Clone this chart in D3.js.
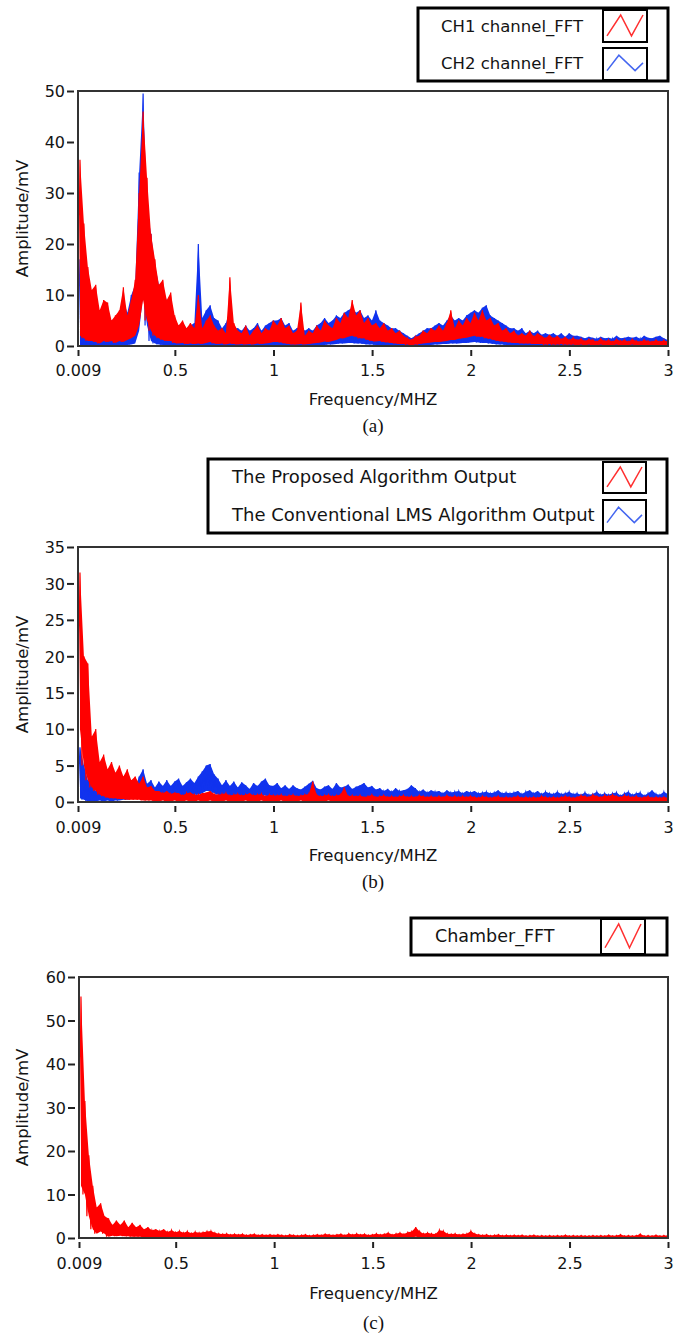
<!DOCTYPE html>
<html>
<head>
<meta charset="utf-8">
<script src="https://cdn.jsdelivr.net/npm/d3@7"></script>
<style>
  body { margin: 0; background: #fff; }
  svg { display: block; }
  .lbl { font-family: "DejaVu Sans", sans-serif; fill: #141414; }
  .cap { font-family: "Liberation Serif", serif; fill: #111; }
</style>
</head>
<body>
<svg id="chart" width="684" height="1336"></svg>
<script>
// FFT bins, 0.02 MHz wide starting at 0.009 MHz; each bin keeps the low / high
// amplitude (mV) that the trace sweeps inside that bin
var binStart = 0.009, binStep = 0.02;
var xTicks = [0.009, 0.5, 1, 1.5, 2, 2.5, 3];

// (a) CH1 / CH2
var ch1Hi = [36.5, 24, 15.5, 11, 12, 7, 9, 8.5, 5, 6,
  7, 11.5, 6, 9, 13, 30, 46, 33, 22, 17,
  12, 13, 9, 10.5, 6, 4, 5, 3.5, 4.5, 3.5,
  10, 3.5, 5, 6, 4, 3, 3.5, 2.5, 13.5, 4.5,
  3, 2.5, 4, 2, 3, 4, 2.5, 3.5, 3, 5,
  4, 5.5, 3.5, 4, 2.5, 3, 8.5, 2, 3, 2.5,
  4, 3, 5, 4, 3.5, 5.5, 4.5, 6.5, 5.5, 9,
  6, 7, 4.5, 5.5, 4, 4.5, 3.5, 4.5, 3, 3.5,
  2.5, 3, 2, 1.5, 1.2, 1.8, 2, 3, 2.5, 3.5,
  3, 4, 3, 4.5, 7, 3.5, 5, 4, 5.5, 4.5,
  6.5, 5, 7, 5, 5.5, 4, 4.5, 3, 3.5, 2.5,
  3, 2, 2.5, 2, 3, 1.8, 2.5, 2, 1.5, 2.2,
  1.5, 2, 1.3, 1.8, 1.2, 1.6, 1.2, 1.4, 1.0, 1.3,
  1.2, 0.9, 1.4, 1.0, 1.2, 0.9, 1.3, 1.0, 1.2, 0.9,
  1.3, 1.0, 0.9, 1.2, 1.0, 0.9, 1.2, 0.9, 1.1, 0.9];
var ch1Lo = [2, 1.5, 1, 1, 0.8, 0.5, 1, 0.8, 1, 0.6,
  1, 0.8, 1.2, 1.5, 2, 4, 9, 5, 3, 2,
  1.5, 1.2, 1, 1, 0.6, 0.5, 0.6, 0.4, 0.5, 0.4,
  0.5, 0.4, 0.6, 0.8, 0.5, 0.4, 0.5, 0.3, 0.5, 0.4,
  0.3, 0.4, 0.3, 0.4, 0.3, 0.5, 0.4, 0.5, 0.6, 0.8,
  0.8, 0.7, 0.5, 0.4, 0.3, 0.3, 0.4, 0.3, 0.4, 0.5,
  0.6, 0.7, 0.9, 0.8, 1, 1.2, 1.5, 1.5, 1.8, 2,
  1.8, 1.5, 1.5, 1.2, 1, 0.9, 1, 0.8, 0.7, 0.6,
  0.5, 0.4, 0.4, 0.3, 0.2, 0.3, 0.4, 0.5, 0.6, 0.7,
  0.8, 0.8, 0.9, 1, 1.2, 1.2, 1.4, 1.5, 1.6, 1.8,
  2, 1.8, 1.8, 1.5, 1.4, 1.2, 1, 0.9, 0.8, 0.7,
  0.6, 0.6, 0.5, 0.5, 0.5, 0.4, 0.4, 0.4, 0.3, 0.4,
  0.3, 0.3, 0.4, 0.3, 0.3, 0.3, 0.2, 0.3, 0.2, 0.3,
  0.2, 0.2, 0.3, 0.2, 0.2, 0.2, 0.3, 0.2, 0.2, 0.2,
  0.3, 0.2, 0.2, 0.2, 0.2, 0.2, 0.2, 0.2, 0.2, 0.2];
var ch2Hi = [17, 18, 14, 9, 7.5, 5, 6.5, 4.5, 5, 4,
  6, 9, 6.5, 10, 12, 34, 49.5, 27, 22, 16,
  12, 11, 9, 8, 5, 4, 4.5, 3.5, 4, 4.5,
  20, 5.5, 7, 8, 5.5, 5, 3.5, 4.5, 7, 3.5,
  3.5, 3, 4, 3, 3.5, 4.5, 3, 4, 4.5, 5,
  5, 5.5, 4, 4.5, 3, 3.5, 4, 3, 3.5, 3,
  4, 4.5, 5.5, 4.5, 5, 6, 5.5, 6.5, 7, 7.5,
  6.5, 7, 5.5, 6, 5, 7, 5, 4.5, 4, 3.5,
  3.5, 3, 2.5, 2, 1.5, 2, 2.5, 3, 3.5, 3.5,
  4, 4.5, 4, 5, 6, 5, 5.5, 5, 6, 6.5,
  7, 6.5, 7.5, 8, 6, 5.5, 5, 4.5, 4, 3.5,
  3.5, 3, 3.5, 2.5, 3, 2.5, 3, 2.2, 2.5, 2.2,
  2.5, 2, 2.5, 1.8, 2.5, 2, 2, 1.8, 1.5, 1.8,
  1.6, 1.4, 1.8, 1.5, 1.6, 1.4, 2, 1.5, 1.6, 1.8,
  1.6, 1.8, 1.4, 2, 1.6, 1.5, 1.8, 2, 1.5, 1.2];
var ch2Lo = [0.2, 0, 0, 0.2, 0, 0, 0.1, 0, 0, 0,
  0.1, 0, 0.2, 0.3, 0.5, 3, 10, 4, 1, 0.5,
  0.3, 0.2, 0.1, 0, 0, 0, 0.1, 0, 0, 0,
  0.1, 0, 0.1, 0.2, 0, 0, 0, 0.1, 0, 0,
  0, 0.1, 0, 0, 0.1, 0, 0, 0.1, 0.1, 0.2,
  0.2, 0.1, 0, 0, 0, 0.1, 0, 0, 0, 0.1,
  0.1, 0.2, 0.2, 0.3, 0.3, 0.4, 0.5, 0.5, 0.6, 0.6,
  0.5, 0.5, 0.4, 0.3, 0.3, 0.2, 0.2, 0.1, 0.1, 0,
  0, 0, 0, 0, 0, 0, 0.1, 0.1, 0.2, 0.2,
  0.3, 0.3, 0.4, 0.4, 0.5, 0.5, 0.5, 0.6, 0.6, 0.7,
  0.8, 0.7, 0.6, 0.6, 0.5, 0.4, 0.3, 0.3, 0.2, 0.2,
  0.1, 0.1, 0.1, 0.1, 0, 0.1, 0, 0.1, 0, 0,
  0, 0, 0.1, 0, 0, 0, 0, 0, 0, 0,
  0, 0, 0, 0, 0, 0, 0, 0, 0, 0,
  0, 0, 0, 0, 0, 0, 0, 0, 0, 0];

// (b) proposed algorithm / conventional LMS
var propHi = [31.5, 20, 19, 9, 10, 5.5, 6.5, 4.5, 5.5, 4,
  5, 3.5, 4.5, 3, 3.5, 2.5, 3.5, 2, 2.2, 1.5,
  1.5, 1.2, 1.5, 1.1, 1.3, 1.2, 0.9, 1.2, 1.3, 1.0,
  1.0, 1.2, 1.3, 1.5, 1.1, 1.0, 1.1, 1.2, 0.9, 1.0,
  1.1, 0.9, 1.0, 1.2, 0.9, 1.0, 1.1, 0.8, 1.0, 0.9,
  0.9, 1.0, 0.8, 0.9, 1.0, 0.8, 0.9, 1.0, 1.1, 2.8,
  1.0, 0.8, 0.9, 1.0, 0.8, 0.9, 1.0, 2.0, 0.8, 0.9,
  0.8, 0.9, 0.7, 0.8, 1.0, 0.7, 0.8, 0.9, 0.7, 0.8,
  0.7, 0.8, 0.9, 0.7, 0.8, 0.7, 0.9, 0.8, 0.7, 0.8,
  0.7, 0.8, 0.7, 0.9, 0.7, 0.8, 0.7, 0.8, 0.7, 0.8,
  0.7, 0.6, 0.8, 0.7, 0.6, 0.7, 0.8, 0.6, 0.7, 0.6,
  0.7, 0.8, 0.6, 0.7, 0.6, 0.7, 0.6, 0.8, 0.7, 0.6,
  0.7, 0.6, 0.7, 0.8, 0.7, 0.6, 0.7, 0.9, 0.8, 0.7,
  1.0, 0.8, 0.7, 0.9, 0.8, 1.0, 0.8, 0.7, 0.9, 0.8,
  0.7, 0.8, 0.6, 0.7, 0.8, 0.6, 0.7, 0.6, 0.7, 0.6];
var propLo = [10, 5, 3, 2, 1.5, 1, 0.8, 0.6, 0.5, 0.5,
  0.4, 0.4, 0.3, 0.3, 0.3, 0.3, 0.2, 0.2, 0.2, 0.1,
  0.1, 0.2, 0.1, 0.1, 0.2, 0.1, 0.1, 0.2, 0.1, 0.1,
  0.2, 0.1, 0.1, 0.2, 0.1, 0.1, 0.1, 0.2, 0.1, 0.1,
  0.1, 0.1, 0.2, 0.1, 0.1, 0.1, 0.2, 0.1, 0.1, 0.1,
  0.1, 0.2, 0.1, 0.1, 0.1, 0.1, 0.2, 0.1, 0.1, 0.1,
  0.1, 0.1, 0.1, 0.2, 0.1, 0.1, 0.1, 0.1, 0.1, 0.1,
  0.1, 0.1, 0.1, 0.1, 0.1, 0.1, 0.1, 0.1, 0.1, 0.1,
  0.1, 0.1, 0.1, 0.1, 0.1, 0.1, 0.1, 0.1, 0.1, 0.1,
  0.1, 0.1, 0.1, 0.1, 0.1, 0.1, 0.1, 0.1, 0.1, 0.1,
  0.1, 0.1, 0.1, 0.1, 0.1, 0.1, 0.1, 0.1, 0.1, 0.1,
  0.1, 0.1, 0.1, 0.1, 0.1, 0.1, 0.1, 0.1, 0.1, 0.1,
  0.1, 0.1, 0.1, 0.1, 0.1, 0.1, 0.1, 0.1, 0.1, 0.1,
  0.1, 0.1, 0.1, 0.1, 0.1, 0.1, 0.1, 0.1, 0.1, 0.1,
  0.1, 0.1, 0.1, 0.1, 0.1, 0.1, 0.1, 0.1, 0.1, 0.1];
var lmsHi = [7.5, 5, 3, 2.5, 1.5, 1.8, 1.2, 1.5, 1.0, 1.5,
  1.3, 1.8, 1.6, 2.5, 2, 3.5, 4.5, 2.5, 3, 2,
  2.8, 2.2, 3, 2.2, 2.8, 3.2, 2.2, 2.7, 3.2, 2.6,
  3.5, 4.2, 5, 5.2, 3.8, 3.2, 2.3, 3, 2.2, 2.8,
  2, 2.7, 2.3, 1.8, 2.6, 2.2, 2.8, 3.2, 2.3, 2.2,
  2.6, 1.9, 2.3, 1.8, 2.3, 1.9, 1.7, 2.1, 2.5, 2.9,
  1.9, 1.7, 2.1, 2.3, 1.8, 2.6, 2.0, 2.1, 2.4, 1.8,
  2.1, 2.3, 2.6, 2.0, 2.2, 1.7, 1.9, 1.5, 1.8, 1.4,
  1.9, 1.5, 1.6, 1.8, 2.3, 1.9, 1.4, 1.7, 1.3, 1.6,
  1.4, 1.5, 1.2, 1.6, 1.3, 1.4, 1.5, 1.2, 1.5, 1.3,
  1.5, 1.2, 1.3, 1.4, 1.2, 1.3, 1.6, 1.2, 1.3, 1.2,
  1.3, 1.5, 1.1, 1.4, 1.6, 1.2, 1.5, 1.1, 1.4, 1.2,
  1.1, 1.4, 1.1, 1.2, 1.4, 1.1, 1.2, 1.0, 1.3, 1.0,
  1.1, 1.4, 1.0, 1.2, 1.0, 1.2, 1.3, 0.9, 1.2, 1.4,
  1.0, 1.2, 1.3, 0.9, 1.2, 1.6, 1.1, 1.0, 1.4, 1.1];
var lmsLo = [0.5, 0.3, 0.1, 0.1, 0.1, 0.2, 0.1, 0.2, 0.1, 0.2,
  0.2, 0.3, 0.3, 0.4, 0.4, 0.8, 1.2, 0.8, 0.6, 0.5,
  0.6, 0.7, 0.8, 0.7, 0.8, 0.9, 0.8, 0.7, 0.9, 1.0,
  1.0, 1.2, 1.5, 1.5, 1.2, 1.0, 0.8, 0.9, 0.8, 0.7,
  0.7, 0.8, 0.7, 0.6, 0.8, 0.7, 0.8, 0.9, 0.7, 0.6,
  0.7, 0.6, 0.7, 0.6, 0.7, 0.6, 0.5, 0.6, 0.7, 0.8,
  0.6, 0.5, 0.6, 0.7, 0.6, 0.7, 0.6, 0.6, 0.7, 0.6,
  0.6, 0.7, 0.7, 0.6, 0.6, 0.5, 0.5, 0.5, 0.6, 0.5,
  0.5, 0.5, 0.4, 0.5, 0.6, 0.6, 0.5, 0.5, 0.4, 0.5,
  0.5, 0.4, 0.4, 0.5, 0.4, 0.4, 0.5, 0.4, 0.4, 0.4,
  0.4, 0.4, 0.4, 0.4, 0.4, 0.4, 0.4, 0.4, 0.4, 0.4,
  0.4, 0.4, 0.4, 0.4, 0.4, 0.4, 0.4, 0.4, 0.4, 0.4,
  0.4, 0.4, 0.3, 0.4, 0.3, 0.4, 0.3, 0.3, 0.4, 0.3,
  0.3, 0.4, 0.3, 0.3, 0.3, 0.3, 0.4, 0.3, 0.3, 0.4,
  0.3, 0.3, 0.4, 0.3, 0.3, 0.4, 0.3, 0.3, 0.4, 0.3];

// (c) chamber
var chamberHi = [55.5, 31.5, 19, 12, 7, 8, 5, 4.5, 3, 4,
  3, 4, 2.5, 3.5, 2.5, 3, 2, 2.5, 1.8, 2,
  1.6, 2, 1.4, 1.8, 1.3, 1.6, 1.2, 1.5, 1.1, 1.4,
  1.2, 1.3, 1.5, 1.6, 1.2, 1.0, 0.9, 1.0, 0.8, 0.9,
  0.8, 0.9, 0.7, 0.8, 0.9, 0.7, 0.8, 0.7, 0.8, 0.7,
  0.8, 0.7, 0.6, 0.8, 0.7, 0.6, 0.7, 0.8, 0.6, 0.7,
  0.8, 0.7, 0.9, 0.8, 0.7, 0.8, 0.9, 0.7, 1.0, 0.8,
  1.0, 0.8, 0.9, 0.7, 0.8, 1.0, 0.8, 0.9, 1.2, 0.8,
  1.0, 1.2, 0.9, 1.3, 1.5, 2.5, 1.5, 1.0, 1.2, 1.0,
  0.9, 1.8, 1.6, 1.0, 0.9, 1.0, 0.8, 0.9, 1.0, 1.6,
  1.0, 0.8, 0.7, 0.8, 0.6, 0.7, 0.8, 0.6, 0.7, 0.6,
  0.7, 0.6, 0.7, 0.5, 0.6, 0.7, 0.5, 0.6, 0.5, 0.6,
  0.5, 0.6, 0.5, 0.7, 0.5, 0.6, 0.5, 0.6, 0.5, 0.5,
  0.6, 0.5, 0.6, 0.5, 0.7, 0.5, 0.6, 0.8, 0.5, 0.6,
  0.5, 0.6, 0.9, 0.5, 0.6, 0.5, 0.7, 0.5, 0.6, 0.6];
var chamberLo = [12, 10, 5, 2, 1, 1.5, 1, 0.3, 0.5, 0.4,
  0.5, 0.4, 0.4, 0.3, 0.3, 0.3, 0.2, 0.2, 0.2, 0.2,
  0.2, 0.1, 0.2, 0.1, 0.2, 0.1, 0.1, 0.2, 0.1, 0.1,
  0.1, 0.1, 0.2, 0.1, 0.1, 0.1, 0.1, 0.1, 0.1, 0.1,
  0.1, 0.1, 0.1, 0.1, 0.1, 0.1, 0.1, 0.1, 0.1, 0.1,
  0.1, 0.1, 0.1, 0.1, 0.1, 0.1, 0.1, 0.1, 0.1, 0.1,
  0.1, 0.1, 0.1, 0.1, 0.1, 0.1, 0.1, 0.1, 0.1, 0.1,
  0.1, 0.1, 0.1, 0.1, 0.1, 0.1, 0.1, 0.1, 0.1, 0.1,
  0.1, 0.1, 0.1, 0.1, 0.2, 0.3, 0.2, 0.1, 0.1, 0.1,
  0.1, 0.1, 0.1, 0.1, 0.1, 0.1, 0.1, 0.1, 0.1, 0.1,
  0.1, 0.1, 0.1, 0.1, 0.1, 0.1, 0.1, 0.1, 0.1, 0.1,
  0.1, 0.1, 0.1, 0.1, 0.1, 0.1, 0.1, 0.1, 0.1, 0.1,
  0.1, 0.1, 0.1, 0.1, 0.1, 0.1, 0.1, 0.1, 0.1, 0.1,
  0.1, 0.1, 0.1, 0.1, 0.1, 0.1, 0.1, 0.1, 0.1, 0.1,
  0.1, 0.1, 0.1, 0.1, 0.1, 0.1, 0.1, 0.1, 0.1, 0.1];

var RED = "#ff0000", BLUE = "#1133ee";

// trace: low then high point in every bin
function trace(lo, hi) {
  var pts = [];
  for (var i = 0; i < hi.length; i++) {
    var f = binStart + i * binStep;
    pts.push([f, lo[i]]);
    pts.push([f + binStep / 2, hi[i]]);
  }
  return pts;
}
// band: per-bin low..high, fills the dense part of the trace
function band(lo, hi) {
  return hi.map(function(h, i) { return [binStart + i * binStep + binStep / 2, lo[i], h]; });
}

var panels = [
  {id: "a", l: 78, r: 668, t: 91, b: 346, yMax: 50, yStep: 10, fs: 16,
   tickY: 376, titleY: 405, capY: 432, cap: "(a)",
   leg: {x: 418, y: 8, w: 250, h: 73, sx: 603, sw: 44, tx: 441, fs: 16.5, rows: [[10, 32, 32], [48, 32, 69]]},
   series: [
     {name: "CH1 channel_FFT", color: RED, lo: ch1Lo, hi: ch1Hi},
     {name: "CH2 channel_FFT", color: BLUE, lo: ch2Lo, hi: ch2Hi}]},
  {id: "b", l: 78, r: 668, t: 547, b: 802, yMax: 35, yStep: 5, fs: 16,
   tickY: 833, titleY: 861, capY: 888, cap: "(b)",
   leg: {x: 208, y: 459, w: 459, h: 74, sx: 603, sw: 43, tx: 232, fs: 18, rows: [[462, 31, 483], [500, 32, 521]]},
   series: [
     {name: "The Proposed Algorithm Output", color: RED, lo: propLo, hi: propHi},
     {name: "The Conventional LMS Algorithm Output", color: BLUE, lo: lmsLo, hi: lmsHi}]},
  {id: "c", l: 79, r: 668, t: 977, b: 1238, yMax: 60, yStep: 10, fs: 16,
   tickY: 1269, titleY: 1299, capY: 1329, cap: "(c)",
   leg: {x: 411, y: 918, w: 256, h: 37, sx: 601, sw: 44, tx: 435, fs: 17.5, rows: [[919, 35, 942]]},
   series: [
     {name: "Chamber_FFT", color: RED, lo: chamberLo, hi: chamberHi}]}
];

var svg = d3.select("#chart");
var defs = svg.append("defs");

panels.forEach(function(p) {
  var x = d3.scaleLinear().domain([binStart, 3]).range([p.l, p.r]);
  var y = d3.scaleLinear().domain([0, p.yMax]).range([p.b, p.t]);
  var g = svg.append("g").attr("id", "panel-" + p.id);

  defs.append("clipPath").attr("id", "clip-" + p.id)
    .append("rect").attr("x", p.l).attr("y", p.t - 1)
    .attr("width", p.r - p.l).attr("height", p.b - p.t + 1);

  var line = d3.line().x(function(d) { return x(d[0]); }).y(function(d) { return y(d[1]); });
  var area = d3.area().x(function(d) { return x(d[0]); })
    .y0(function(d) { return y(d[1]); }).y1(function(d) { return y(d[2]); });

  // blue underneath, red on top
  var drawOrder = p.series.slice().reverse();
  var sg = g.append("g").attr("clip-path", "url(#clip-" + p.id + ")")
    .selectAll("g").data(drawOrder).enter().append("g");
  sg.append("path")
    .attr("d", function(s) { return area(band(s.lo, s.hi)); })
    .attr("fill", function(s) { return s.color; });
  sg.append("path")
    .attr("d", function(s) { return line(trace(s.lo, s.hi)); })
    .attr("fill", "none")
    .attr("stroke", function(s) { return s.color; })
    .attr("stroke-width", 1.2);

  // frame
  g.append("rect").attr("x", p.l).attr("y", p.t)
    .attr("width", p.r - p.l).attr("height", p.b - p.t)
    .attr("fill", "none").attr("stroke", "#333").attr("stroke-width", 2);

  // x axis
  var xa = g.append("g").attr("transform", "translate(0," + p.b + ")")
    .call(d3.axisBottom(x).tickValues(xTicks)
      .tickFormat(function(d) { return d === binStart ? "0.009" : d3.format("~g")(d); }));
  xa.select(".domain").remove();
  xa.selectAll(".tick line").attr("y1", 4).attr("y2", 10).attr("stroke", "#222").attr("stroke-width", 2);
  xa.selectAll(".tick text").attr("class", "lbl").attr("y", p.tickY - p.b).attr("dy", null)
    .style("font-size", p.fs + "px");
  xa.attr("font-family", null).attr("font-size", null);

  // y axis
  var ya = g.append("g").attr("transform", "translate(" + p.l + ",0)")
    .call(d3.axisLeft(y).tickValues(d3.range(0, p.yMax + 1, p.yStep)));
  ya.select(".domain").remove();
  ya.selectAll(".tick line").attr("x1", -11).attr("x2", -4).attr("stroke", "#222").attr("stroke-width", 2);
  ya.selectAll(".tick text").attr("class", "lbl").attr("x", -13).attr("dy", "0.36em")
    .style("font-size", p.fs + "px");
  ya.attr("font-family", null).attr("font-size", null);

  // titles
  g.append("text").attr("class", "lbl")
    .attr("transform", "translate(28," + ((p.t + p.b) / 2) + ") rotate(-90)")
    .attr("text-anchor", "middle").style("font-size", "16.5px").text("Amplitude/mV");
  g.append("text").attr("class", "lbl").attr("x", (p.l + p.r) / 2).attr("y", p.titleY)
    .attr("text-anchor", "middle").style("font-size", "16.5px").text("Frequency/MHZ");
  g.append("text").attr("class", "cap").attr("x", (p.l + p.r) / 2).attr("y", p.capY)
    .attr("text-anchor", "middle").style("font-size", "19px").text(p.cap);

  // legend
  var L = p.leg;
  var lg = g.append("g");
  lg.append("rect").attr("x", L.x).attr("y", L.y).attr("width", L.w).attr("height", L.h)
    .attr("fill", "#fff").attr("stroke", "#000").attr("stroke-width", 3);
  p.series.forEach(function(s, i) {
    var row = L.rows[i];
    lg.append("text").attr("class", "lbl").attr("x", L.tx).attr("y", row[2])
      .style("font-size", L.fs + "px").text(s.name);
    lg.append("rect").attr("x", L.sx).attr("y", row[0]).attr("width", L.sw).attr("height", row[1])
      .attr("fill", "#fff").attr("stroke", "#000").attr("stroke-width", 2);
    var sx = d3.scaleLinear().domain([0, 1]).range([L.sx + 4, L.sx + L.sw - 4]);
    var sy = d3.scaleLinear().domain([0, 1]).range([row[0] + row[1] - 5, row[0] + 5]);
    var shape = s.color === RED ? [[0, 0.05], [0.38, 1], [0.68, 0.05], [1, 1]]
                                : [[0, 0.2], [0.33, 0.9], [0.78, 0.2], [1, 0.55]];
    lg.append("path")
      .attr("d", d3.line().x(function(d) { return sx(d[0]); }).y(function(d) { return sy(d[1]); })(shape))
      .attr("fill", "none").attr("stroke", s.color === RED ? "#ff3030" : "#4466f0").attr("stroke-width", 1.5);
  });
});
</script>
</body>
</html>
